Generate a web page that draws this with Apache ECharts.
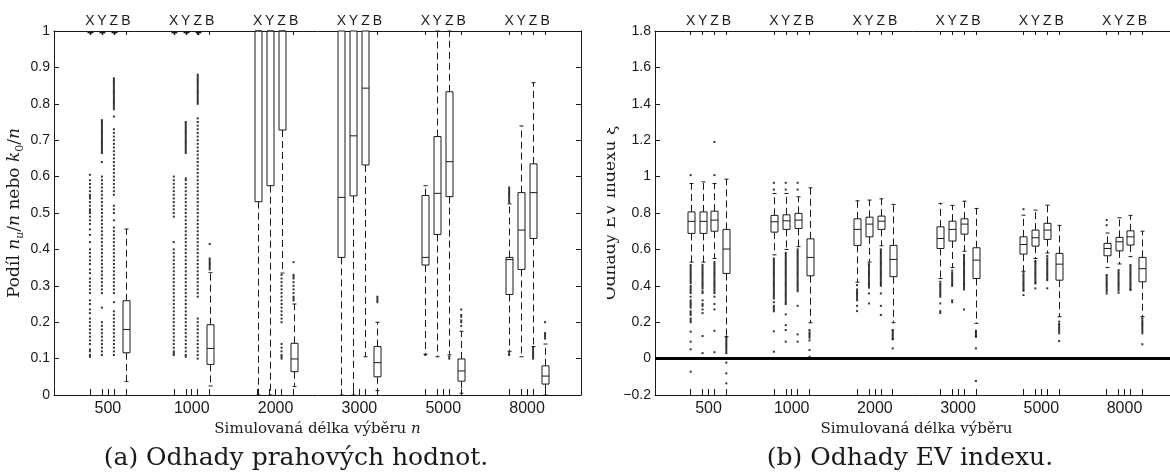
<!DOCTYPE html>
<html><head><meta charset="utf-8">
<script src="https://cdn.jsdelivr.net/npm/echarts@6/dist/echarts.min.js"></script>
<style>html,body{margin:0;padding:0;background:#fff;overflow:hidden}#c{width:1170px;height:476px}</style>
</head><body><div id="c"></div><script>
// ---------- categories ----------
const SIZES = ['500', '1000', '2000', '3000', '5000', '8000'];
const METHODS = ['X', 'Y', 'Z', 'B'];

// ---------- panel (a): box stats [lower whisker, q1, median, q3, upper whisker] per sample size ----------
const A_BOX_X = [[1,1,1,1,1],[1,1,1,1,1],[0,0.531,1,1,1],[0,0.378,0.543,1,1],[0.112,0.357,0.378,0.548,0.575],[0.12,0.276,0.372,0.378,0.525]];
const A_BOX_Y = [[1,1,1,1,1],[1,1,1,1,1],[0,0.575,1,1,1],[0,0.547,0.712,1,1],[0.105,0.441,0.554,0.71,1],[0.105,0.345,0.453,0.556,0.739]];
const A_BOX_Z = [[1,1,1,1,1],[1,1,1,1,1],[0.335,0.728,1,1,1],[0.105,0.632,0.843,1,1],[0.11,0.545,0.641,0.833,1],[0.133,0.43,0.556,0.635,0.858]];
const A_BOX_B = [[0.037,0.116,0.18,0.259,0.456],[0.025,0.084,0.128,0.193,0.336],[0.023,0.064,0.099,0.142,0.25],[0.012,0.05,0.089,0.133,0.2],[0.005,0.038,0.066,0.099,0.175],[0.0,0.03,0.052,0.08,0.14]];

// ---------- panel (a): outliers ----------
const A_OUT_X = [
  [0.105,0.11,0.12,0.125,0.14,0.15,0.16,0.17,0.18,0.19,0.2,0.21,0.225,0.235,0.25,0.26,0.28,0.29,0.3,0.31,0.32,0.335,0.345,0.36,0.37,0.38,0.39,0.4,0.42,0.44,0.455,0.47,0.48,0.49,0.5,0.505,0.51,0.52,0.53,0.54,0.545,0.55,0.56,0.57,0.58,0.59,0.605],
  [0.11,0.115,0.12,0.13,0.14,0.15,0.16,0.17,0.18,0.19,0.2,0.21,0.22,0.23,0.24,0.25,0.26,0.27,0.28,0.29,0.3,0.31,0.32,0.33,0.34,0.35,0.36,0.37,0.38,0.39,0.4,0.42,0.49,0.5,0.51,0.52,0.53,0.54,0.55,0.56,0.57,0.58,0.59,0.6],
  [], [], [0.11],
  [0.11,0.115,0.53,0.535,0.54,0.545,0.55,0.555,0.56,0.565,0.57]
];
const A_OUT_Y = [
  [0.11,0.12,0.13,0.14,0.15,0.16,0.17,0.18,0.19,0.2,0.24,0.28,0.29,0.3,0.31,0.32,0.33,0.34,0.35,0.36,0.37,0.38,0.39,0.4,0.41,0.42,0.43,0.44,0.45,0.46,0.47,0.48,0.49,0.5,0.51,0.52,0.53,0.54,0.55,0.56,0.57,0.58,0.59,0.6,0.64,0.665,0.67,0.675,0.68,0.685,0.69,0.695,0.7,0.705,0.71,0.715,0.72,0.725,0.73,0.735,0.74,0.745,0.75,0.755],
  [0.105,0.11,0.12,0.13,0.14,0.15,0.16,0.17,0.18,0.19,0.2,0.21,0.22,0.23,0.24,0.25,0.26,0.27,0.28,0.29,0.3,0.31,0.32,0.33,0.34,0.35,0.36,0.37,0.38,0.39,0.4,0.41,0.42,0.43,0.44,0.45,0.46,0.47,0.48,0.49,0.5,0.51,0.52,0.53,0.54,0.55,0.56,0.57,0.58,0.59,0.595,0.665,0.67,0.675,0.68,0.685,0.69,0.695,0.7,0.705,0.71,0.715,0.72,0.725,0.73,0.735,0.74,0.745,0.75],
  [], [], [], []
];
const A_OUT_Z = [
  [0.11,0.12,0.13,0.14,0.15,0.16,0.17,0.18,0.19,0.2,0.21,0.22,0.23,0.255,0.28,0.29,0.3,0.31,0.32,0.33,0.34,0.35,0.36,0.37,0.38,0.39,0.4,0.41,0.42,0.43,0.44,0.45,0.46,0.48,0.5,0.51,0.52,0.55,0.56,0.57,0.58,0.59,0.6,0.61,0.62,0.63,0.64,0.65,0.66,0.67,0.68,0.69,0.7,0.71,0.72,0.73,0.765,0.785,0.79,0.795,0.8,0.805,0.81,0.815,0.82,0.825,0.83,0.835,0.84,0.845,0.85,0.855,0.86,0.865,0.87],
  [0.1,0.11,0.12,0.13,0.14,0.15,0.16,0.17,0.18,0.19,0.2,0.21,0.27,0.28,0.29,0.3,0.31,0.32,0.33,0.34,0.35,0.36,0.37,0.38,0.39,0.4,0.41,0.42,0.43,0.44,0.45,0.46,0.47,0.48,0.49,0.5,0.51,0.52,0.53,0.54,0.55,0.56,0.57,0.58,0.59,0.6,0.61,0.62,0.63,0.64,0.65,0.66,0.67,0.68,0.69,0.7,0.71,0.72,0.73,0.74,0.75,0.76,0.8,0.805,0.81,0.815,0.82,0.825,0.83,0.835,0.84,0.845,0.85,0.855,0.86,0.865,0.87,0.875,0.88],
  [0.1,0.105,0.11,0.12,0.13,0.14,0.2,0.21,0.22,0.23,0.24,0.25,0.26,0.27,0.28,0.29,0.3,0.31,0.32,0.33],
  [],
  [0.1,0.105],
  [0.1,0.105,0.11,0.115,0.12,0.125,0.13]
];
const A_OUT_B = [
  [],
  [0.345,0.35,0.355,0.36,0.365,0.37,0.375,0.415],
  [0.26,0.265,0.27,0.28,0.29,0.3,0.31,0.32,0.325,0.33,0.365],
  [0.255,0.26,0.265,0.27],
  [0.19,0.2,0.205,0.215,0.22,0.235],
  [0.155,0.16,0.165,0.17,0.2]
];

// ---------- panel (b): box stats ----------
const B_BOX_X = [[0.53,0.688,0.754,0.806,0.962],[0.57,0.695,0.752,0.787,0.907],[0.42,0.622,0.71,0.768,0.867],[0.44,0.605,0.66,0.724,0.853],[0.48,0.574,0.627,0.669,0.788],[0.5,0.565,0.605,0.633,0.69]];
const B_BOX_Y = [[0.53,0.688,0.754,0.806,0.971],[0.6,0.71,0.757,0.79,0.907],[0.53,0.669,0.739,0.777,0.871],[0.5,0.646,0.71,0.755,0.842],[0.55,0.618,0.664,0.706,0.816],[0.52,0.592,0.642,0.666,0.774]];
const B_BOX_Z = [[0.55,0.7,0.761,0.81,0.962],[0.615,0.715,0.761,0.798,0.889],[0.62,0.71,0.755,0.783,0.878],[0.59,0.684,0.739,0.768,0.865],[0.58,0.655,0.706,0.743,0.843],[0.56,0.624,0.669,0.702,0.787]];
const B_BOX_B = [[0.12,0.468,0.602,0.71,0.986],[0.197,0.455,0.556,0.658,0.938],[0.197,0.45,0.545,0.622,0.847],[0.194,0.44,0.541,0.609,0.825],[0.23,0.431,0.519,0.578,0.732],[0.23,0.422,0.494,0.556,0.7]];

// ---------- panel (b): outliers ----------
const B_OUT_X = [
  [1.008,0.514,0.505,0.495,0.485,0.475,0.465,0.455,0.445,0.435,0.425,0.415,0.4,0.39,0.38,0.37,0.36,0.34,0.32,0.31,0.3,0.29,0.28,0.26,0.25,0.24,0.22,0.21,0.2,0.148,0.093,0.051,-0.072],
  [0.966,0.929,0.55,0.54,0.53,0.52,0.51,0.5,0.49,0.48,0.47,0.46,0.45,0.44,0.43,0.42,0.41,0.4,0.39,0.38,0.37,0.36,0.35,0.34,0.33,0.31,0.29,0.28,0.27,0.26,0.15,0.038],
  [0.404,0.38,0.37,0.36,0.35,0.34,0.33,0.32,0.29,0.261],
  [0.422,0.41,0.4,0.39,0.38,0.37,0.36,0.35,0.34,0.303,0.261,0.25],
  [0.821,0.472,0.46,0.45,0.44,0.43,0.42,0.41,0.4,0.39,0.38,0.373,0.349],
  [0.761,0.733,0.459,0.45,0.44,0.43,0.42,0.41,0.4,0.39,0.38,0.37,0.358]
];
const B_OUT_Y = [
  [0.515,0.505,0.495,0.485,0.475,0.465,0.455,0.445,0.435,0.425,0.415,0.405,0.395,0.385,0.37,0.36,0.32,0.3,0.29,0.27,0.25,0.124,0.03],
  [0.966,0.929,0.58,0.57,0.56,0.55,0.54,0.53,0.52,0.51,0.5,0.49,0.48,0.47,0.46,0.45,0.44,0.43,0.42,0.41,0.4,0.39,0.38,0.37,0.36,0.35,0.34,0.33,0.32,0.31,0.3,0.243,0.184,0.157,0.093],
  [0.519,0.51,0.5,0.49,0.48,0.47,0.46,0.45,0.44,0.43,0.42,0.41,0.4,0.39,0.358,0.303],
  [0.483,0.47,0.46,0.45,0.44,0.43,0.42,0.41,0.4,0.32,0.31],
  [0.537,0.53,0.52,0.51,0.5,0.49,0.48,0.47,0.46,0.45,0.44,0.43,0.42,0.413,0.386],
  [0.486,0.475,0.465,0.455,0.445,0.435,0.425,0.415,0.405,0.395,0.385,0.375,0.362]
];
const B_OUT_Z = [
  [1.19,1.008,0.53,0.52,0.51,0.5,0.49,0.48,0.47,0.46,0.45,0.44,0.43,0.42,0.41,0.4,0.39,0.38,0.37,0.36,0.34,0.3,0.27,0.153,0.035],
  [0.966,0.929,0.6,0.59,0.58,0.57,0.56,0.55,0.54,0.53,0.52,0.51,0.5,0.49,0.48,0.47,0.46,0.45,0.44,0.43,0.42,0.41,0.4,0.39,0.38,0.37,0.29,0.133,0.093],
  [0.6,0.59,0.58,0.57,0.56,0.55,0.54,0.53,0.52,0.51,0.5,0.49,0.48,0.47,0.46,0.45,0.44,0.43,0.42,0.41,0.4,0.358,0.29,0.24],
  [0.569,0.56,0.55,0.54,0.53,0.52,0.51,0.5,0.49,0.48,0.47,0.46,0.45,0.44,0.43,0.42,0.41,0.4,0.39,0.38,0.27],
  [0.563,0.55,0.54,0.53,0.52,0.51,0.5,0.49,0.48,0.47,0.46,0.45,0.44,0.431,0.386],
  [0.514,0.505,0.495,0.485,0.475,0.465,0.455,0.445,0.435,0.425,0.415,0.405,0.395,0.385,0.377]
];
const B_OUT_B = [
  [0.12,0.11,0.1,0.09,0.08,0.07,0.06,0.05,0.04,0.03,-0.022,-0.081,-0.136],
  [0.157,0.145,0.135,0.125,0.115,0.1,0.047,0.01],
  [0.157,0.15,0.14,0.13,0.12,0.11,0.106,0.056],
  [0.153,0.145,0.135,0.125,0.12,0.056,-0.123],
  [0.203,0.19,0.18,0.17,0.16,0.15,0.139,0.097],
  [0.221,0.21,0.2,0.19,0.18,0.17,0.16,0.15,0.139,0.079]
];

// ---------- build ----------
const GROUP_STEP = 7, FIRST = 3;
const pos = (g, k) => g * GROUP_STEP + FIRST + k;
const centerPos = g => g * GROUP_STEP + FIRST + 1.5;
const X_MAX = (SIZES.length - 1) * GROUP_STEP + FIRST + 3 + 3;

const boxPos = [], allTicks = [], centers = [];
SIZES.forEach((s, g) => { METHODS.forEach((m, k) => { boxPos.push(pos(g, k)); allTicks.push(pos(g, k)); }); centers.push(centerPos(g)); allTicks.push(centerPos(g)); });

function buildBoxes(lists) {
  const out = [];
  lists.forEach((list, k) => list.forEach((st, g) => out.push([pos(g, k)].concat(st))));
  return out;
}
function buildOutliers(lists) {
  const out = [];
  lists.forEach((list, k) => list.forEach((vals, g) => vals.forEach(v => out.push([pos(g, k), v]))));
  return out;
}

const INK = '#1a1a1a';
function renderBox(params, api) {
  const x = api.value(0);
  const lo = api.coord([x, api.value(1)]);
  const q1 = api.coord([x, api.value(2)]);
  const md = api.coord([x, api.value(3)]);
  const q3 = api.coord([x, api.value(4)]);
  const hi = api.coord([x, api.value(5)]);
  const cx = Math.round(lo[0]) + 0.5;
  const hw = 3.5, cw = 2;
  const solid = { stroke: INK, lineWidth: 1, fill: null };
  const dash = { stroke: INK, lineWidth: 1, lineDash: [7, 4], fill: null };
  const ch = [];
  if (lo[1] - q1[1] > 0.5) {
    ch.push({ type: 'line', shape: { x1: cx, y1: q1[1], x2: cx, y2: lo[1] }, style: dash });
    ch.push({ type: 'line', shape: { x1: cx - cw, y1: lo[1], x2: cx + cw, y2: lo[1] }, style: solid });
  }
  if (q3[1] - hi[1] > 0.5) {
    ch.push({ type: 'line', shape: { x1: cx, y1: q3[1], x2: cx, y2: hi[1] }, style: dash });
    ch.push({ type: 'line', shape: { x1: cx - cw, y1: hi[1], x2: cx + cw, y2: hi[1] }, style: solid });
  }
  const h = q1[1] - q3[1];
  if (h > 0.5) {
    ch.push({ type: 'rect', shape: { x: cx - hw, y: q3[1], width: hw * 2, height: h }, style: { stroke: INK, lineWidth: 1, fill: '#fff' } });
    ch.push({ type: 'line', shape: { x1: cx - hw, y1: md[1], x2: cx + hw, y2: md[1] }, style: solid });
  } else {
    // collapsed box: drawn as a small "+" mark
    ch.push({ type: 'line', shape: { x1: cx - 3, y1: md[1] + 1.5, x2: cx + 3, y2: md[1] + 1.5 }, style: { stroke: INK, lineWidth: 1.6 } });
    ch.push({ type: 'line', shape: { x1: cx, y1: md[1], x2: cx, y2: md[1] + 4 }, style: { stroke: INK, lineWidth: 1.6 } });
  }
  return { type: 'group', children: ch };
}

const SANS = '"Liberation Sans", Arial, sans-serif';
const SERIF = '"DejaVu Serif", serif';
const letterFmt = v => METHODS[Math.round(v - FIRST) % GROUP_STEP] || '';
const sizeFmt = v => SIZES[Math.round((v - FIRST - 1.5) / GROUP_STEP)] || '';
const axisLine = { show: true, onZero: false, lineStyle: { color: INK, width: 1 } };

function bottomAxis(gi, name) {
  return {
    type: 'value', gridIndex: gi, position: 'bottom', min: 0, max: X_MAX,
    axisLine, splitLine: { show: false },
    axisTick: { show: true, inside: true, length: 6, customValues: allTicks, lineStyle: { color: INK } },
    axisLabel: { show: true, customValues: centers, formatter: sizeFmt, color: INK, fontSize: 16, fontFamily: SANS, margin: 6 },
    name, nameLocation: 'middle', nameGap: 26,
    nameTextStyle: { fontFamily: SERIF, fontSize: 15, color: INK, rich: { i: { fontFamily: SERIF, fontStyle: 'italic', fontSize: 15, color: INK } } }
  };
}
function topAxis(gi) {
  return {
    type: 'value', gridIndex: gi, position: 'top', min: 0, max: X_MAX,
    axisLine, splitLine: { show: false },
    axisTick: { show: true, inside: true, length: 4, customValues: boxPos, lineStyle: { color: INK } },
    axisLabel: { show: true, customValues: boxPos, formatter: letterFmt, color: INK, fontSize: 14, fontFamily: SANS, margin: 3 }
  };
}
const numFmt = v => { const n = parseFloat(v.toFixed(2)); return n < 0 ? '\u2212' + Math.abs(n) : String(n); };

const option = {
  backgroundColor: '#fff',
  animation: false,
  grid: [
    { left: 54, top: 31, width: 527, height: 364, outerBoundsMode: 'none', containLabel: false },
    { left: 655, top: 31, width: 523, height: 364, outerBoundsMode: 'none', containLabel: false }
  ],
  xAxis: [
    bottomAxis(0, 'Simulovaná délka výběru {i|n}'),
    topAxis(0),
    bottomAxis(1, 'Simulovaná délka výběru'),
    topAxis(1)
  ],
  yAxis: [
    { type: 'value', gridIndex: 0, position: 'left', min: 0, max: 1, interval: 0.1,
      axisLine, splitLine: { show: false },
      axisTick: { inside: true, length: 5, lineStyle: { color: INK } },
      axisLabel: { color: INK, fontSize: 14, fontFamily: SANS, margin: 4, formatter: numFmt },
      name: 'Podíl {i|n}{si|u}/{i|n} nebo {i|k}{s|0}/{i|n}', nameLocation: 'middle', nameRotate: 90, nameGap: 28,
      nameTextStyle: { fontFamily: SERIF, fontSize: 17, color: INK, lineHeight: 22,
        rich: { i: { fontFamily: SERIF, fontStyle: 'italic', fontSize: 17, color: INK, lineHeight: 22 },
                si: { fontFamily: SERIF, fontStyle: 'italic', fontSize: 11, color: INK, verticalAlign: 'bottom', lineHeight: 22 },
                s: { fontFamily: SERIF, fontSize: 11, color: INK, verticalAlign: 'bottom', lineHeight: 22 } } } },
    { type: 'value', gridIndex: 0, position: 'right', min: 0, max: 1, interval: 0.1,
      axisLine, splitLine: { show: false },
      axisTick: { inside: true, length: 5, lineStyle: { color: INK } }, axisLabel: { show: false } },
    { type: 'value', gridIndex: 1, position: 'left', min: -0.2, max: 1.8, interval: 0.2,
      axisLine, splitLine: { show: false },
      axisTick: { inside: true, length: 5, lineStyle: { color: INK } },
      axisLabel: { color: INK, fontSize: 14, fontFamily: SANS, margin: 4, formatter: numFmt },
      name: 'Odhady EV indexu ξ', nameLocation: 'middle', nameRotate: 90, nameGap: 34,
      nameTextStyle: { fontFamily: SERIF, fontSize: 17, color: INK } },
    { type: 'value', gridIndex: 1, position: 'right', min: -0.2, max: 1.8, interval: 0.2,
      axisLine, splitLine: { show: false },
      axisTick: { inside: true, length: 5, lineStyle: { color: INK } }, axisLabel: { show: false } }
  ],
  series: [
    { type: 'custom', xAxisIndex: 0, yAxisIndex: 0, renderItem: renderBox, data: buildBoxes([A_BOX_X, A_BOX_Y, A_BOX_Z, A_BOX_B]), encode: { x: 0, y: [1, 2, 3, 4, 5] }, z: 3, silent: true },
    { type: 'scatter', xAxisIndex: 0, yAxisIndex: 0, symbol: 'rect', symbolSize: 2, itemStyle: { color: '#000' }, data: buildOutliers([A_OUT_X, A_OUT_Y, A_OUT_Z, A_OUT_B]), z: 4, silent: true },
    { type: 'custom', xAxisIndex: 2, yAxisIndex: 2, renderItem: renderBox, data: buildBoxes([B_BOX_X, B_BOX_Y, B_BOX_Z, B_BOX_B]), encode: { x: 0, y: [1, 2, 3, 4, 5] }, z: 3, silent: true,
      markLine: { silent: true, symbol: 'none', label: { show: false }, lineStyle: { color: '#000', width: 3, type: 'solid' }, data: [{ yAxis: 0 }] } },
    { type: 'scatter', xAxisIndex: 2, yAxisIndex: 2, symbol: 'rect', symbolSize: 2, itemStyle: { color: '#000' }, data: buildOutliers([B_OUT_X, B_OUT_Y, B_OUT_Z, B_OUT_B]), z: 4, silent: true }
  ],
  graphic: [
    { type: 'rect', z: 100, shape: { x: 583, y: 90, width: 24, height: 260 }, style: { fill: '#fff' } },
    { type: 'text', z: 100, x: 296, y: 458, style: { text: '(a) Odhady prahových hodnot.', font: '25px "DejaVu Serif", serif', fill: INK, align: 'center', verticalAlign: 'middle', textAlign: 'center', textVerticalAlign: 'middle' } },
    { type: 'text', z: 100, x: 910, y: 458, style: { text: '(b) Odhady EV indexu.', font: '25px "DejaVu Serif", serif', fill: INK, align: 'center', verticalAlign: 'middle', textAlign: 'center', textVerticalAlign: 'middle' } }
  ]
};
const chart = echarts.init(document.getElementById('c'), null, { renderer: 'canvas' });
chart.setOption(option);
</script></body></html>
